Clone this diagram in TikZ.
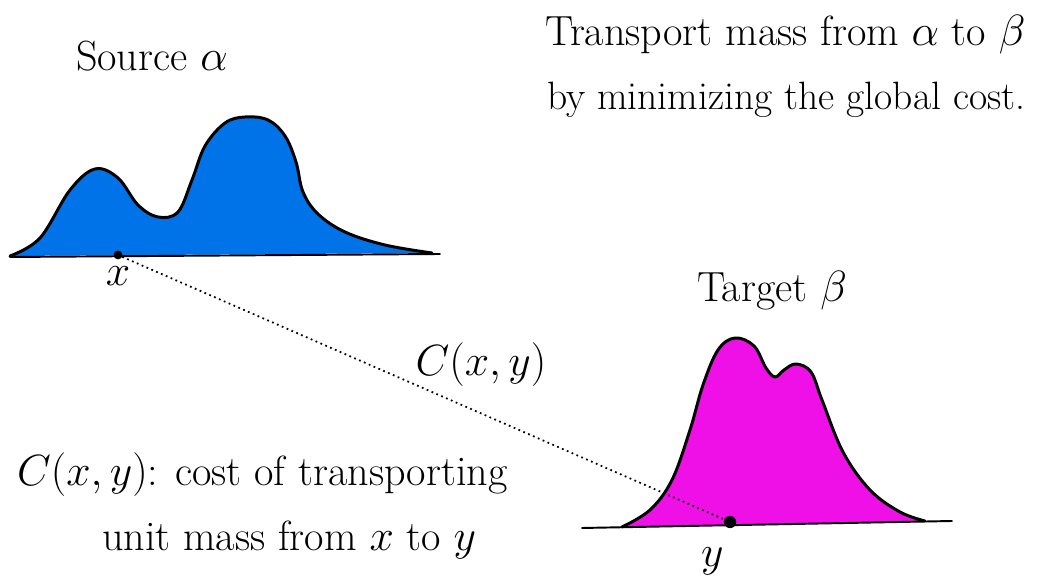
\documentclass[tikz,border=0pt]{standalone}
\usetikzlibrary{positioning}
\definecolor{srcblue}{RGB}{0,115,232}
\definecolor{tgtmagenta}{RGB}{238,16,230}
\tikzset{
  hand/.style={font=\fontsize{24}{28}\selectfont, inner sep=1pt},
  curve/.style={line width=1.7pt, line join=round, line cap=round},
  ground/.style={line width=1.1pt, line cap=round},
  masspt/.style={circle, fill=black, inner sep=0pt, minimum size=5pt},
}
\begin{document}
\begin{tikzpicture}[x=0.02cm, y=-0.02cm]
    \useasboundingbox (0,0) rectangle (1039,587);

    % --- Headings ---
    \node[hand] (source) at (152,56) {Source $\alpha$};
    \node[hand] (target) at (772,291) {Target $\beta$};
    \node[hand, anchor=west] (goal1) at (543,35) {Transport mass from $\alpha$ to $\beta$};
    \node[hand, font=\fontsize{22.5}{27}\selectfont, anchor=west] (goal2) at (545,100) {by minimizing the global cost.};

    % --- Source density alpha ---
    \fill[srcblue] plot[smooth, tension=0.6] coordinates {(10,256) (40,238) (70,190) (95,169) (118,178)
        (138,205) (158,217) (178,212) (192,180) (205,146) (225,123) (245,117) (268,120) (285,136)
        (296,162) (303,192) (318,214) (345,232) (385,245) (432,253)} -- (10,256) -- cycle;
    \draw[curve] plot[smooth, tension=0.6] coordinates {(10,256) (40,238) (70,190) (95,169) (118,178)
        (138,205) (158,217) (178,212) (192,180) (205,146) (225,123) (245,117) (268,120) (285,136)
        (296,162) (303,192) (318,214) (345,232) (385,245) (432,253)};
    \coordinate (srcL) at (10,257);
    \coordinate (srcR) at (440,254);
    \draw[ground] (srcL) -- (srcR);

    % --- Target density beta ---
    \fill[tgtmagenta] plot[smooth, tension=0.6] coordinates {(622,527) (650,510) (672,480) (690,430)
        (703,385) (718,350) (735,338) (754,346) (766,368) (775,377) (784,370) (796,364) (811,372)
        (822,400) (843,452) (870,490) (900,512) (925,521)} -- (622,527) -- cycle;
    \draw[curve] plot[smooth, tension=0.6] coordinates {(622,527) (650,510) (672,480) (690,430)
        (703,385) (718,350) (735,338) (754,346) (766,368) (775,377) (784,370) (796,364) (811,372)
        (822,400) (843,452) (870,490) (900,512) (925,521)};
    \coordinate (tgtL) at (582,528);
    \coordinate (tgtR) at (952,521);
    \draw[ground] (tgtL) -- (tgtR);

    % --- Points x, y and the cost between them ---
    \node[masspt] (xdot) at (118,255) {};
    \node[masspt, minimum size=7pt] (ydot) at (730,522) {};
    \node[hand, below=3pt of xdot] (xlabel) {$x$};
    \node[hand, below=10pt of ydot, xshift=-10pt] (ylabel) {$y$};
    \draw[dotted, line width=1pt] (xdot) -- (ydot);
    \node[hand] (cost) at (481,365) {$C(x,y)$};

    % --- Note ---
    \node[hand, anchor=west] (note1) at (15,475) {$C(x,y)$: cost of transporting};
    \node[hand, anchor=west] (note2) at (100,540) {unit mass from $x$ to $y$};

\end{tikzpicture}
\end{document}
